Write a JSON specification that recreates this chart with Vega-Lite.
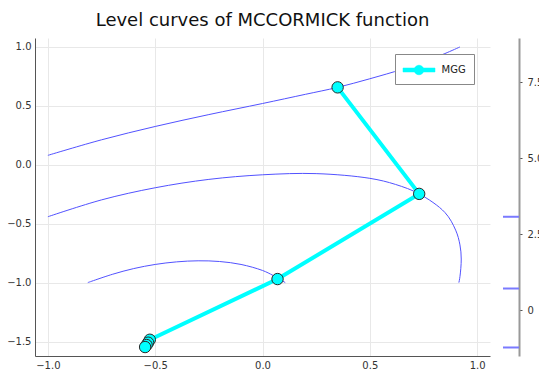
{
  "$schema": "https://vega.github.io/schema/vega-lite/v6.json",
  "padding": {"left": 5, "top": 12, "right": 0, "bottom": 0},
  "background": "white",
  "config": {
    "view": {"stroke": null},
    "font": "DejaVu Sans",
    "axis": {"labelFont": "DejaVu Sans", "labelFontSize": 10, "labelColor": "#333333", "gridColor": "#e8e8e8", "gridWidth": 1, "domainColor": "#555555", "domainWidth": 1, "ticks": false, "labelFlush": false, "title": null}
  },
  "resolve": {"legend": {"color": "independent"}, "scale": {"color": "independent"}},
  "datasets": {
    "contours": [
      {"level": "a", "i": 1, "x": -1.0, "y": 0.08},
      {"level": "a", "i": 2, "x": -0.75, "y": 0.212},
      {"level": "a", "i": 3, "x": -0.5, "y": 0.325},
      {"level": "a", "i": 4, "x": -0.25, "y": 0.426},
      {"level": "a", "i": 5, "x": 0.0, "y": 0.52},
      {"level": "a", "i": 6, "x": 0.2, "y": 0.598},
      {"level": "a", "i": 7, "x": 0.35, "y": 0.657},
      {"level": "a", "i": 8, "x": 0.5, "y": 0.73},
      {"level": "a", "i": 9, "x": 0.65, "y": 0.81},
      {"level": "a", "i": 10, "x": 0.75, "y": 0.872},
      {"level": "a", "i": 11, "x": 0.85, "y": 0.944},
      {"level": "a", "i": 12, "x": 0.92, "y": 1.0},
      {"level": "b", "i": 1, "x": -1.0, "y": -0.441},
      {"level": "b", "i": 2, "x": -0.75, "y": -0.298},
      {"level": "b", "i": 3, "x": -0.5, "y": -0.195},
      {"level": "b", "i": 4, "x": -0.25, "y": -0.124},
      {"level": "b", "i": 5, "x": 0.0, "y": -0.085},
      {"level": "b", "i": 6, "x": 0.25, "y": -0.075},
      {"level": "b", "i": 7, "x": 0.5, "y": -0.115},
      {"level": "b", "i": 8, "x": 0.62, "y": -0.167},
      {"level": "b", "i": 9, "x": 0.73, "y": -0.247},
      {"level": "b", "i": 10, "x": 0.85, "y": -0.405},
      {"level": "b", "i": 11, "x": 0.9, "y": -0.555},
      {"level": "b", "i": 12, "x": 0.92, "y": -0.68},
      {"level": "b", "i": 13, "x": 0.926, "y": -0.8},
      {"level": "b", "i": 14, "x": 0.92, "y": -0.95},
      {"level": "b", "i": 15, "x": 0.915, "y": -1.0},
      {"level": "c", "i": 1, "x": -0.814, "y": -1.0},
      {"level": "c", "i": 2, "x": -0.7, "y": -0.93},
      {"level": "c", "i": 3, "x": -0.6, "y": -0.881},
      {"level": "c", "i": 4, "x": -0.5, "y": -0.846},
      {"level": "c", "i": 5, "x": -0.4, "y": -0.824},
      {"level": "c", "i": 6, "x": -0.3, "y": -0.815},
      {"level": "c", "i": 7, "x": -0.2, "y": -0.821},
      {"level": "c", "i": 8, "x": -0.1, "y": -0.846},
      {"level": "c", "i": 9, "x": 0.0, "y": -0.897},
      {"level": "c", "i": 10, "x": 0.05, "y": -0.94},
      {"level": "c", "i": 11, "x": 0.106, "y": -1.0}
    ],
    "path": [
      {"series": "MGG", "i": 1, "x": 0.35, "y": 0.657},
      {"series": "MGG", "i": 2, "x": 0.73, "y": -0.247},
      {"series": "MGG", "i": 3, "x": 0.07, "y": -0.97},
      {"series": "MGG", "i": 4, "x": -0.525, "y": -1.485},
      {"series": "MGG", "i": 5, "x": -0.533, "y": -1.51},
      {"series": "MGG", "i": 6, "x": -0.54, "y": -1.53},
      {"series": "MGG", "i": 7, "x": -0.547, "y": -1.547}
    ],
    "levels": [
      {"z": 3.07},
      {"z": 0.71},
      {"z": -1.23}
    ]
  },
  "hconcat": [
    {
      "width": 455,
      "height": 318,
      "title": {"text": "Level curves of MCCORMICK function", "fontSize": 18, "fontWeight": "normal", "font": "DejaVu Sans", "color": "#111111", "offset": 8},
      "layer": [
        {
          "data": {"name": "contours"},
          "mark": {"type": "line", "color": "#5252ff", "strokeWidth": 1, "clip": true, "interpolate": "catmull-rom"},
          "encoding": {
            "x": {"field": "x", "type": "quantitative", "scale": {"domain": [-1.06, 1.06], "nice": false, "zero": false}, "axis": {"values": [-1, -0.5, 0, 0.5, 1], "format": ".1f", "labelPadding": 4}},
            "y": {"field": "y", "type": "quantitative", "scale": {"domain": [-1.623, 1.076], "nice": false, "zero": false}, "axis": {"values": [-1.5, -1, -0.5, 0, 0.5, 1], "format": ".1f", "labelPadding": 4, "minExtent": 30, "maxExtent": 30}},
            "detail": {"field": "level"},
            "order": {"field": "i"}
          }
        },
        {
          "data": {"name": "path"},
          "mark": {"type": "line", "strokeWidth": 4},
          "encoding": {
            "x": {"field": "x", "type": "quantitative"},
            "y": {"field": "y", "type": "quantitative"},
            "order": {"field": "i"},
            "color": {"field": "series", "type": "nominal", "scale": {"range": ["#00ffff"]},
              "legend": {"title": null, "orient": "top-right", "offset": 16, "fillColor": "white", "strokeColor": "#888888", "padding": 7.5, "cornerRadius": 0,
                "symbolType": "M-2,-0.25H2V0.25H-2Z M0.6,0 A0.6,0.6 0 1,1 -0.6,0 A0.6,0.6 0 1,1 0.6,0Z",
                "symbolSize": 256, "symbolOffset": 8, "labelOffset": 14, "labelFontSize": 10, "labelFont": "DejaVu Sans", "labelColor": "#222222",
                "encode": {"symbols": {"update": {"fill": {"value": "#00ffff"}, "stroke": {"value": "#00e0e0"}, "strokeWidth": {"value": 0.5}}}}}}
          }
        },
        {
          "data": {"name": "path"},
          "mark": {"type": "point", "filled": true, "size": 130, "stroke": "#2a2a2a", "strokeWidth": 1, "opacity": 1},
          "encoding": {
            "x": {"field": "x", "type": "quantitative"},
            "y": {"field": "y", "type": "quantitative"},
            "color": {"field": "series", "type": "nominal"}
          }
        }
      ]
    },
    {
      "width": 16,
      "height": 318,
      "data": {"name": "levels"},
      "mark": {"type": "rule", "color": "#7a7aff", "strokeWidth": 2},
      "encoding": {
        "y": {"field": "z", "type": "quantitative", "scale": {"domain": [-1.51, 8.95], "nice": false, "zero": false},
          "axis": {"orient": "right", "grid": false, "ticks": true, "tickSize": 3, "tickColor": "#555555", "values": [0, 2.5, 5, 7.5], "labelExpr": "datum.value == 0 ? '0' : format(datum.value, '.1f')", "labelPadding": 5, "domainColor": "#999999", "domainWidth": 2}}
      }
    }
  ],
  "spacing": 12
}
